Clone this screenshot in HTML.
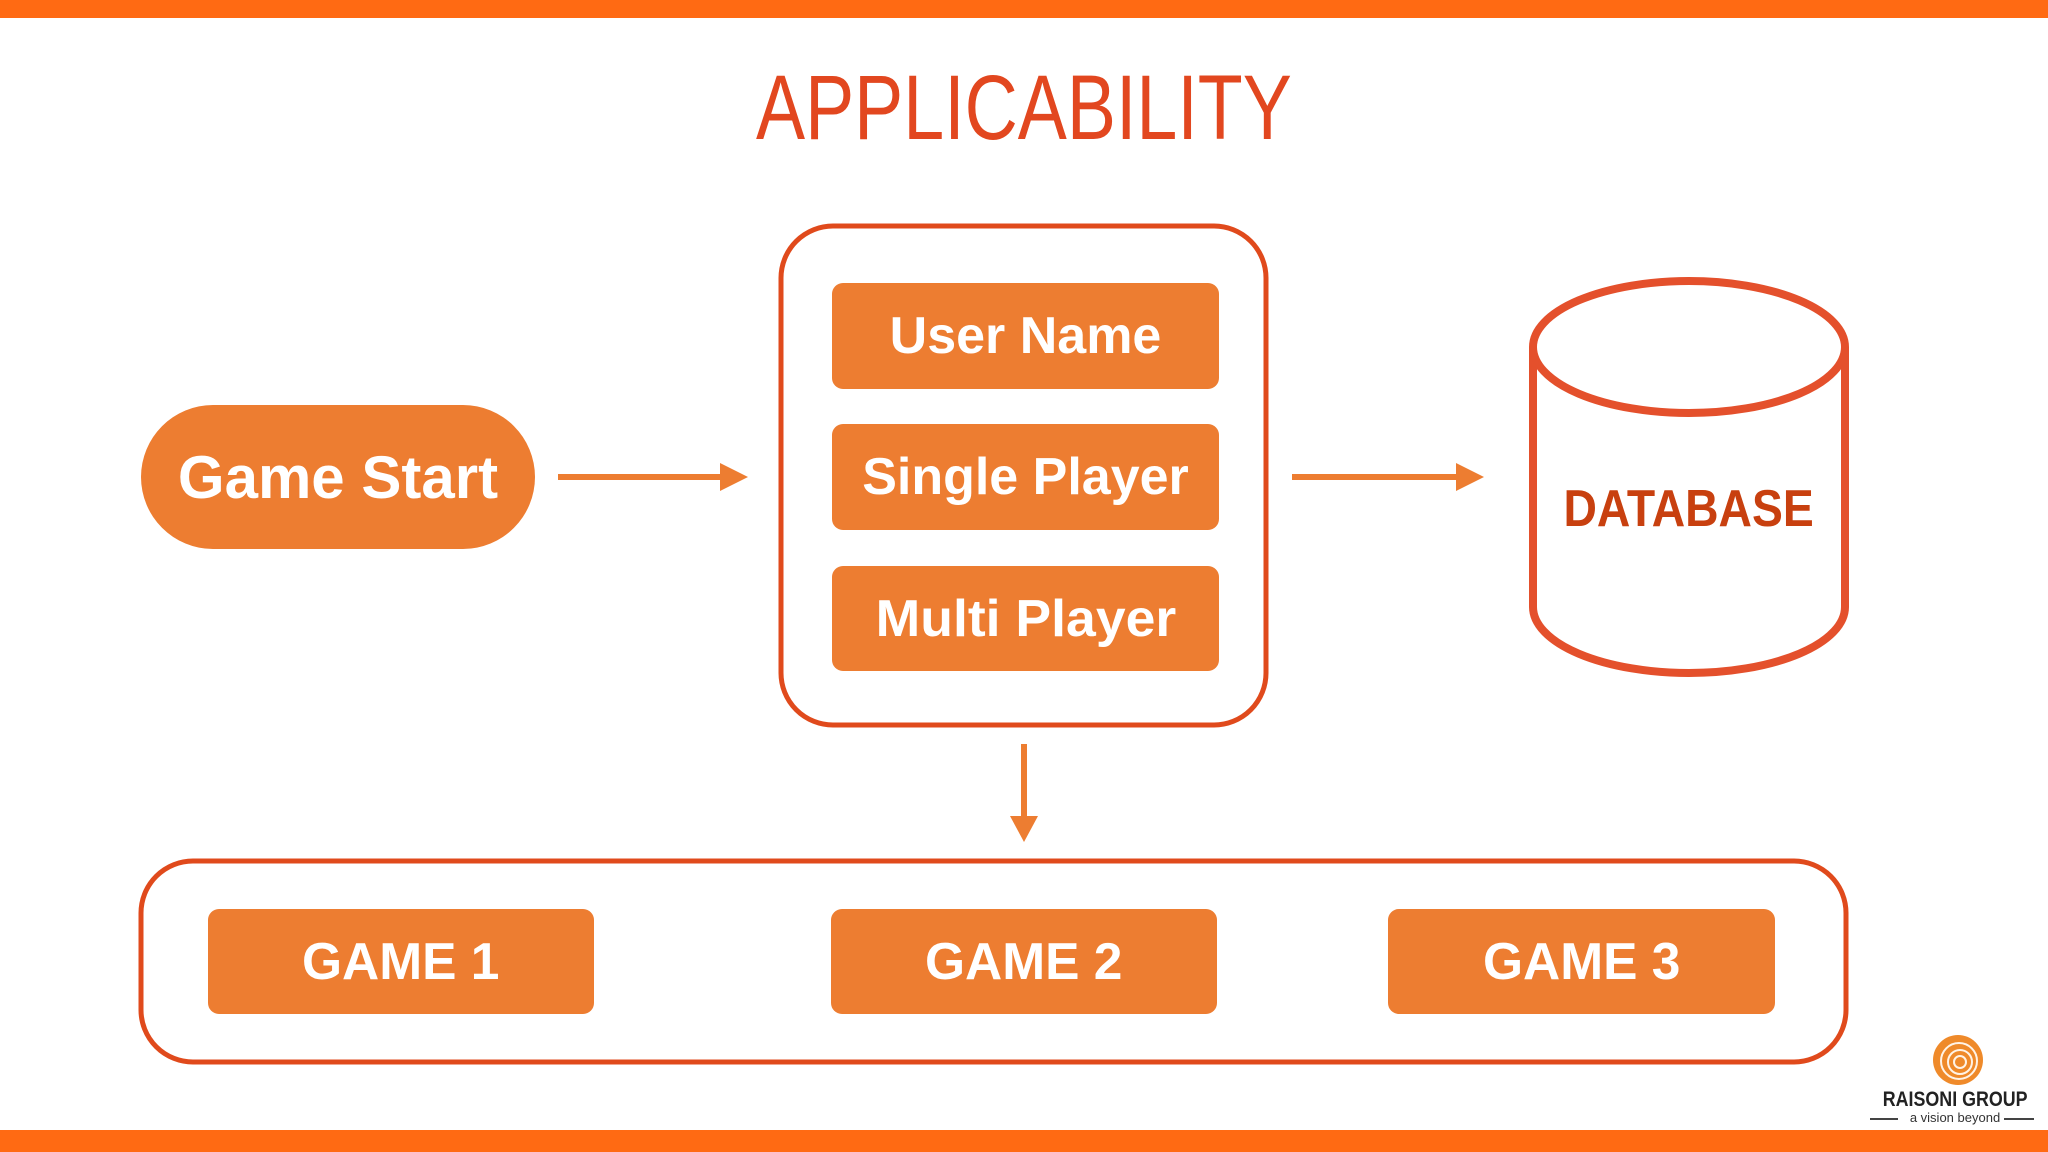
<!DOCTYPE html>
<html><head><meta charset="utf-8"><style>
body{margin:0;width:2048px;height:1152px;background:#fff;overflow:hidden;position:relative;font-family:"Liberation Sans",sans-serif}
.bar{position:absolute;left:0;width:2048px;background:#ff6a13}
.b{position:absolute;background:#ed7d31;color:#fff;font-weight:bold;display:flex;align-items:center;justify-content:center;border-radius:11px;font-size:52px}
.t{display:inline-block;transform:scaleX(0.85)}
</style></head><body>
<div class="bar" style="top:0;height:18px"></div>
<div class="bar" style="top:1130px;height:22px"></div>
<div style="position:absolute;left:0;width:2048px;top:58px;text-align:center;color:#e2471f;font-size:92px;line-height:100px"><span class="t" style="transform:scaleX(0.8)">APPLICABILITY</span></div>
<svg width="2048" height="1152" style="position:absolute;left:0;top:0">
<g stroke="#ed7d31" stroke-width="6" fill="#ed7d31">
<line x1="558" y1="477" x2="730" y2="477"/><polygon points="720,463 748,477 720,491" stroke="none"/>
<line x1="1292" y1="477" x2="1466" y2="477"/><polygon points="1456,463 1484,477 1456,491" stroke="none"/>
<line x1="1024" y1="744" x2="1024" y2="826"/><polygon points="1010,816 1024,842 1038,816" stroke="none"/>
</g>
<rect x="781" y="226" width="485" height="499" rx="52" fill="none" stroke="#e04a1c" stroke-width="5"/>
<rect x="141" y="861" width="1705" height="201" rx="52" fill="none" stroke="#e04a1c" stroke-width="5"/>
<g fill="none" stroke="#e4502c" stroke-width="8">
<path d="M1533,347 V607 A156,66 0 0 0 1845,607 V347"/>
<ellipse cx="1689" cy="347" rx="156" ry="66" fill="#fff"/>
</g>
<circle cx="1958" cy="1060" r="25" fill="#ef8a2a"/>
<g fill="none" stroke="#fff3e6" stroke-width="2"><circle cx="1960" cy="1062" r="6"/><circle cx="1960" cy="1062" r="12"/><circle cx="1959" cy="1061" r="18"/></g>
<line x1="1870" y1="1119" x2="1898" y2="1119" stroke="#444" stroke-width="2"/>
<line x1="2004" y1="1119" x2="2034" y2="1119" stroke="#444" stroke-width="2"/>
</svg>
<div class="b" style="left:141px;top:405px;width:394px;height:144px;border-radius:72px;font-size:60px"><span class="t" style="transform:scaleX(1.0)">Game Start</span></div>
<div class="b" style="left:832px;top:283px;width:387px;height:106px"><span class="t" style="transform:scaleX(1.0)">User Name</span></div>
<div class="b" style="left:832px;top:424px;width:387px;height:106px"><span class="t" style="transform:scaleX(1.0)">Single Player</span></div>
<div class="b" style="left:832px;top:566px;width:387px;height:105px"><span class="t" style="transform:scaleX(1.03)">Multi Player</span></div>
<div class="b" style="left:208px;top:909px;width:386px;height:105px"><span class="t" style="transform:scaleX(0.99)">GAME 1</span></div>
<div class="b" style="left:831px;top:909px;width:386px;height:105px"><span class="t" style="transform:scaleX(0.99)">GAME 2</span></div>
<div class="b" style="left:1388px;top:909px;width:387px;height:105px"><span class="t" style="transform:scaleX(0.99)">GAME 3</span></div>
<div style="position:absolute;left:1529px;width:320px;top:478px;text-align:center;color:#c8400f;font-weight:bold;font-size:52px;line-height:62px"><span class="t" style="transform:scaleX(0.89)">DATABASE</span></div>
<div style="position:absolute;left:1860px;width:190px;top:1088px;text-align:center;color:#222;font-weight:bold;font-size:21px;line-height:24px"><span class="t">RAISONI GROUP</span></div>
<div style="position:absolute;left:1860px;width:190px;top:1110px;text-align:center;color:#333;font-size:13px;line-height:16px">a vision beyond</div>
</body></html>
